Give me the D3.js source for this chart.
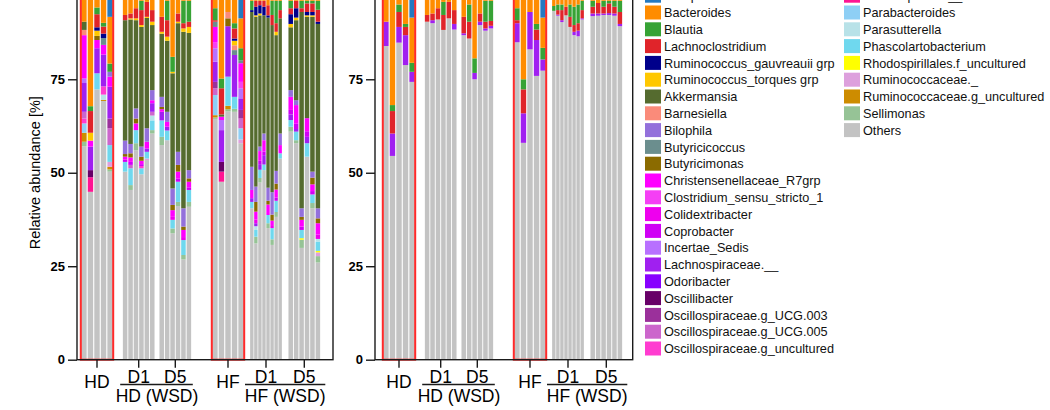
<!DOCTYPE html>
<html><head><meta charset="utf-8">
<script src="https://cdn.jsdelivr.net/npm/d3@7"></script>
<style>
body{margin:0;background:#fff}
svg{display:block}
text{font-family:"Liberation Sans",Arial,Helvetica,sans-serif}
</style>
</head><body>
<svg id="chart" width="1050" height="410"></svg>
<script>
// ---------- categories ----------
const taxa = ["Alistipes","Bacteroides","Blautia","Lachnoclostridium","Ruminococcus_gauvreauii grp","Ruminococcus_torques grp","Akkermansia","Barnesiella","Bilophila","Butyricicoccus","Butyricimonas","Christensenellaceae_R7grp","Clostridium_sensu_stricto_1","Colidextribacter","Coprobacter","Incertae_Sedis","Lachnospiraceae.__","Odoribacter","Oscillibacter","Oscillospiraceae.g_UCG.003","Oscillospiraceae.g_UCG.005","Oscillospiraceae.g_uncultured","Oscillospirales.__","Parabacteroides","Parasutterella","Phascolartobacterium","Rhodospirillales.f_uncultured","Ruminococcaceae._","Ruminococcaceae.g_uncultured","Sellimonas","Others"];
const taxonColors = ["#2479c1","#ff8c00","#37a335","#e0242a","#00008b","#ffc800","#556b2f","#fa8b7a","#9370db","#6b8e8e","#8b6b00","#ff00ff","#f53ff5","#ee00ee","#d000f5","#b870ff","#a020f0","#8800ff","#680068","#9b309b","#cc66cc","#ff3cd0","#ff1493","#8ecff5","#b8e2e8","#6fd8ee","#ffff00","#dda0dd","#cd8c00","#96c396","#c3c3c3"];
const groupLabels = ["HD","D1","D5","HF","D1","D5"];
const groupSizes = [5,6,6,5,8,6];
const conditionLabels = ["HD (WSD)","HF (WSD)"];
const yTicks = [0,25,50,75,100];
const yLabel = "Relative abundance [%]";

// ---------- left panel: genus series (36 samples: 5|6|6|5|8|6) ----------
const alistipes =        [0,0,0,0,8.3, 0,0,0,0,0,0, 0,0,0,0,0,0, 0,0,0,0,8.7, 0,0,0,0,0,0,0,0, 0,0,0,0,0,0];
const bacteroides =      [9.6,32.2,5.8,9.9,12.5, 7.8,7.4,6.0,4.0,4.3,6.5, 8.3,4.0,19.0,7.4,4.0,4.0, 6.0,24.8,7.0,10.0,8.0, 4.0,4.0,4.0,4.0,5.2,4.0,4.0,4.0, 4.0,4.0,4.0,4.0,4.0,4.0];
const blautia =          [0,1.3,1.8,1.0,2.2, 0,0,0,2.5,0,0, 0,5.2,4.0,0,6.0,5.6, 3.2,2.6,0,1.4,3.2, 2.5,0,0,0,0,3.8,6.0,2.5, 2.0,0,2.0,0.7,0.7,2.4];
const lachnoclostridium =[0,5.8,3.5,1.9,0, 1.4,1.3,2.7,4.0,4.0,3.1, 4.0,4.4,0,2.2,1.4,1.4, 0.4,7.0,0,2.7,0, 0,1.6,1.2,1.6,2.7,2.7,2.3,2.2, 1.6,2.0,1.0,2.3,2.3,3.2];
const gauvreauii =       [0,0,0.9,1.2,0, 0,0,0,0,0,0, 0,0,0,0,0,0, 0,0,0,0.6,0, 0.5,2.3,2.2,2.3,0.6,0,0,0, 2.6,2.5,0,0.9,0.9,0.6];
const torques =          [0,2.1,1.4,0,0, 0,0.3,0.5,0.5,0.3,0.9, 0.5,1.1,0.4,0.4,0.9,1.6, 0,0,0,1.2,0, 0,0.4,0.5,0,0,0,0.9,0, 0.9,0.7,0,0.4,0.4,0];
const akkermansia =      [2.2,0,0,0,0, 32.2,33.3,23.6,32.0,29.5,17.4, 16.9,19.0,30.8,34.4,47.2,36.7, 0,0.6,0,0,0, 41.4,45.4,35.1,31.6,45.5,44.7,36.3,30.8, 16.8,21.4,52.5,27.1,41.4,49.3];
const barnesiella =      [1.4,0,0,0,0, 0,0,0,0,0,0, 0,0,0,0,0,0, 0,0,1.7,1.3,0, 0,0,0,0,0,0,0,0, 0,0,0,0,0,0];
const bilophila =        [0,0,0,0,1.3, 3.6,2.5,2.7,2.7,3.6,2.7, 2.7,2.7,4.4,3.5,4.9,2.2, 0,0,0,0,0, 6.2,4.1,1.2,1.8,3.5,6.0,3.4,3.1, 1.8,1.3,2.3,0,1.6,2.7];
const butyricicoccus =   [0,0,0,1.8,0, 0,0,0,0,0,0, 0,0,0,0,0,0, 1.4,0,0,1.3,0.8, 0,0,0,0,0,0,0,0, 0,0,0,0,0,0];
const butyricimonas =    [0,0,1.1,0,0, 0.7,1.1,1.3,1.1,0,0, 0.6,0,1.4,1.8,0.9,0.9, 0,0,2.1,0,0, 0,2.6,0,0,1.0,1.6,1.6,0, 0,0,0.8,0,1.8,1.3];
const christensenellaceae=[11.6,1.6,2.2,2.6,2.7, 0.8,1.2,1.8,0.9,1.8,0.8, 0.7,1.3,1.8,1.8,1.9,1.5, 4.2,0.9,0,0,5.0, 2.2,2.1,2.6,3.0,2.8,1.2,2.1,2.2, 3.5,5.0,1.8,3.5,1.8,3.0];
const clostridium =      [0,0,0,0,0, 0,0,0,0,0,0, 0,0,0,0,0,0, 1.5,0,0,0,1.7, 0,0,0,0,0,0,0,0, 0,0,0,0,0,0];
const colidextribacter = [0,0,0,0,0, 0,0,0,0,0,0, 0,0,0.8,0,0.8,0, 0,0,0,0,0, 0,1.0,0,0,0,0.8,0,0, 0,0,0,0,0,1.2];
const coprobacter =      [0,0,0,0,0, 0.6,0.8,0,0.5,0,0, 0,0,0,0.9,0,0.7, 0,0,0,0,0, 0,0,0.9,1.0,0,0,0.9,0, 1.2,1.4,0.9,1.5,0.9,0];
const incertaeSedis =    [1.2,0,0,0,0, 0,0,0,0,0,0, 0,0,0,0,0,0, 3.6,2.7,0,0,2.7, 0,0,0,0,0,0,0,0, 0,0,0,0,0,0];
const lachnospiraceae =  [7.7,6.3,6.7,8.5,8.5, 0,0,0,0,0.9,2.3, 2.3,1.0,0,0,0,0, 5.4,8.5,13.5,11.2,3.1, 1.0,0.8,1.5,2.5,0,0,0,0, 1.5,0.7,0,1.7,0,0];
const odoribacter =      [0,0,0,0,0, 0,0,0,0,0,0, 0,0,0,0,0,0, 0,0,0,0,0, 0,0,0,0,0,0,0,0, 0,0,0,0,0,0];
const oscillibacter =    [0,1.9,0,0,0, 0,0,0,0,0,0, 0,0,0,0,0,0, 0,2.6,0,0,0, 0,0,0,0,0,0,0,0, 0,0,0,0,0,0];
const ucg003 =           [0,0,0,0,2.6, 0,0,0,0,0,0, 0,0,0,0,0,0, 1.7,0,0,0,2.3, 0,0,0,0,0,0,0,0, 0,0,0,0,0,0];
const ucg005 =           [1.8,0,0,0,4.5, 0,0.9,0,0,0,1.0, 0,0,0,0,0,0, 1.8,0,0,0,2.6, 0,0,0,0,0,0,0,0, 0,0,0,0,0,0];
const oscUncultured =    [1.3,0,0,2.2,0, 0,0,0,0.6,0,0, 0,0,0,0,0,0, 0,0,0,0,0, 0,0,0,0,0,0,0,0, 0,0,0,0,0,0];
const oscillospirales =  [0,3.9,0,0,0, 0,0,0,0,0,0, 0,0,0,0,0,0, 0,2.7,0,0,0, 0,0,0,0,0,0,0,0, 0,0,0,0,0,0];
const parabacteroides =  [2.5,0,0,0,0, 0,0,0,0,0,0, 0,0,0,0,0,0, 5.4,0,0,0,3.0, 0,0,0,0,0,0,0,0, 0,0,0,0,0,0];
const parasutterella =   [0,0,0,1.4,0, 0,0,0,0,0,1.3, 0,0,0,0,0,0, 0,0,0,0,0, 0,1.0,0,0,0,0,0,0, 0,0,0,0,0,0.7];
const phascolarto =      [0,0,4.3,0,4.5, 2.6,4.5,3.5,1.6,1.8,2.6, 4.4,2.6,2.3,5.4,4.0,3.2, 0,0,7.8,3.2,0, 1.7,1.8,2.2,1.5,2.2,3.0,3.0,1.4, 1.8,2.3,2.2,3.6,2.3,2.5];
const rhodospirillales = [0,0,0,0,0, 0,0,0,0,0,0, 0,0,0,0,0,0, 0,0,0,0,0, 0,0,0,0,0,0,0,0, 0,0,0.4,0,0,0.4];
const ruminococcaceaeU = [0,0,0,0,1.3, 0,0,0,0,0.4,0, 0,0,0,0,0,0, 0,0,0,0,1.0, 0,0,0,0,0,0,0,0, 0,0,0,0,0,1.0];
const ruminococcaceaeUnc=[2.4,0,0,0.3,0.7, 0,0,0,0,0,0, 0,0,0,0,0,0, 0.6,0,0.9,0,0, 0,0,0,0,0,0,0,0, 0,0,0,0,0,0];
const sellimonas =       [1.2,0,0,0,0.6, 0,1.3,1.9,0,0,0.9, 2.2,0,1.3,1.1,1.2,1.3, 0.4,0,0.6,0.8,0, 0,1.8,1.2,0,1.3,1.5,1.3,0, 1.3,0.8,2.2,0,1.4,1.7];
const others =           [57.1,44.9,72.3,69.2,50.3, 50.3,45.4,56.0,49.6,53.4,60.5, 57.4,58.7,33.8,41.1,26.8,40.9, 64.4,47.6,66.4,66.3,57.9, 40.5,31.1,47.4,50.7,35.2,30.7,38.2,53.8, 61.0,57.9,29.9,54.3,40.5,26.0];

// ---------- right panel: top taxa only ----------
const rightTaxa = ["Alistipes","Bacteroides","Blautia","Lachnoclostridium","Lachnospiraceae.__","Others"];
const rAlistipes =   [0,0,0,0,8.5, 0,0,0,0,0,0, 0,0,0,0,0,0, 0,0,0,0,8.5, 0,0,0,0,0,0,0,0, 0,0,0,0,0,0];
const rBacteroides = [9.6,31.9,5.0,10.2,12.1, 7.8,7.4,6.0,4.3,4.3,6.5, 8.3,5.0,19.4,7.4,4.0,4.0, 6.0,25.0,7.0,10.2,8.1, 5.4,5.0,5.0,5.6,5.0,5.6,5.0,4.0, 4.0,4.6,4.0,4.0,4.0,4.0];
const rBlautia =     [0,1.6,2.0,0.8,2.4, 0,0,0,3.5,0,0, 0,4.6,3.9,0,5.6,5.4, 3.2,2.7,0,1.5,3.1, 1.3,1.5,1.5,0,3.3,4.9,5.0,2.5, 1.6,0,1.6,0.7,1.6,3.0];
const rLachnoclost = [0,6.0,4.0,2.2,0, 1.8,1.8,3.0,4.0,4.4,3.7, 4.4,4.5,0,2.2,1.8,1.3, 0.8,6.4,0,2.8,0, 0,1.2,2.7,2.3,2.7,1.8,2.0,2.2, 1.8,2.8,1.8,2.6,1.8,3.2];
const rLachnospir =  [6.5,6.0,4.2,8.0,2.7, 0,0.8,0,0,0,1.5, 0.5,0,1.7,0.9,0.6,0.7, 5.1,7.9,10.0,9.6,3.0, 0,0.3,0.5,0,0,0.9,1.5,0.3, 0.7,0.6,0.4,0.5,0.6,0.6];
const rOthers =      [83.9,54.5,84.8,78.8,74.3, 90.4,90.0,91.0,88.2,91.3,88.3, 86.8,85.9,75.0,89.5,88.0,88.6, 84.9,58.0,83.0,75.9,77.3, 93.3,92.0,90.3,92.1,89.0,86.8,86.5,91.0, 91.9,92.0,92.2,92.2,92.0,89.2];

const leftSeries = [alistipes,bacteroides,blautia,lachnoclostridium,gauvreauii,torques,akkermansia,barnesiella,bilophila,butyricicoccus,butyricimonas,christensenellaceae,clostridium,colidextribacter,coprobacter,incertaeSedis,lachnospiraceae,odoribacter,oscillibacter,ucg003,ucg005,oscUncultured,oscillospirales,parabacteroides,parasutterella,phascolarto,rhodospirillales,ruminococcaceaeU,ruminococcaceaeUnc,sellimonas,others];
const rightSeries = [rAlistipes,rBacteroides,rBlautia,rLachnoclost,rLachnospir,rOthers];

// ---------- build ----------
const svg = d3.select("#chart");
svg.append("rect").attr("width",1050).attr("height",410).attr("fill","#fff");
const color = d3.scaleOrdinal().domain(taxa).range(taxonColors);

const sampleIds = groupSizes.flatMap((n,gi)=>d3.range(n).map(i=>`g${gi}_s${i+1}`));
const groupOf = groupSizes.flatMap((n,gi)=>d3.range(n).map(()=>gi));

function buildTable(names, series){
  return sampleIds.map((id,j)=>{
    const row={sample:id};
    names.forEach((t,k)=>row[t]=series[k][j]);
    return row;
  });
}

const y = d3.scaleLinear().domain([0,100]).range([359.7,-14.2]);
const groupX = [81,122.7,159.3,212,250,288.3];
const groupW = 32;

const panels = [
  {x0:77, x1:333, shift:0, names:taxa, series:leftSeries, ylabel:true},
  {x0:375, x1:632.7, shift:302, names:rightTaxa, series:rightSeries, ylabel:false}
];

panels.forEach(p=>{
  const g = svg.append("g");
  const table = buildTable(p.names, p.series);
  const keys = p.names.slice().reverse(); // Others at bottom
  const stacked = d3.stack().keys(keys)(table);
  const bands = groupSizes.map((n,gi)=>d3.scaleBand()
      .domain(sampleIds.filter((s,j)=>groupOf[j]===gi))
      .range([groupX[gi]+p.shift, groupX[gi]+p.shift+groupW])
      .paddingInner(0.17).paddingOuter(0.03));
  const xOf = (id)=>bands[groupOf[sampleIds.indexOf(id)]](id);
  const bw = (id)=>bands[groupOf[sampleIds.indexOf(id)]].bandwidth();

  g.selectAll("g.layer").data(stacked).join("g").attr("class","layer")
    .attr("fill",d=>color(d.key))
    .selectAll("rect").data(d=>d.filter(v=>v[1]-v[0]>0)).join("rect")
    .attr("x",d=>xOf(d.data.sample))
    .attr("width",d=>bw(d.data.sample))
    .attr("y",d=>y(d[1]))
    .attr("height",d=>y(d[0])-y(d[1]));

  // red boxes around baseline groups
  [0,3].forEach(gi=>{
    g.append("rect")
      .attr("x",groupX[gi]+p.shift-0.2).attr("width",groupW+0.4)
      .attr("y",y(100)).attr("height",y(0)-y(100))
      .attr("fill","none").attr("stroke","#ff2a2a").attr("stroke-width",2);
  });

  // frame
  g.append("rect").attr("x",p.x0).attr("y",y(100)).attr("width",p.x1-p.x0).attr("height",y(0)-y(100))
    .attr("fill","none").attr("stroke","#1a1a1a").attr("stroke-width",1.4);

  // y axis
  const ax = g.append("g").attr("transform",`translate(${p.x0},0)`)
    .call(d3.axisLeft(y).tickValues(yTicks).tickSize(9).tickPadding(3));
  ax.select(".domain").remove();
  ax.selectAll(".tick line").attr("stroke","#1a1a1a").attr("stroke-width",1.4);
  ax.selectAll(".tick text").attr("fill","#000").style("font-size","13px").style("font-weight","bold")
    .style("font-family",'"Liberation Sans",Arial,sans-serif');

  // x ticks and labels
  groupLabels.forEach((lab,gi)=>{
    const cx = groupX[gi]+p.shift+groupW/2;
    g.append("line").attr("x1",cx).attr("x2",cx).attr("y1",y(0)).attr("y2",y(0)+8)
      .attr("stroke","#1a1a1a").attr("stroke-width",1.4);
    const sub = (gi===1||gi===2||gi===4||gi===5);
    g.append("text").attr("x",cx).attr("y",sub?383:387.5).attr("text-anchor","middle")
      .style("font-size","17.5px").attr("fill","#000").text(lab);
  });
  const pairs = [[1,2,-2.5,1.5],[4,5,-5,5]];
  pairs.forEach(([a,b,l,r],k)=>{
    const xa = groupX[a]+p.shift+l, xb = groupX[b]+p.shift+groupW+r;
    g.append("line").attr("x1",xa).attr("x2",xb).attr("y1",384.5).attr("y2",384.5)
      .attr("stroke","#1a1a1a").attr("stroke-width",1.4);
    g.append("text").attr("x",(groupX[a]+groupX[b]+groupW)/2+p.shift).attr("y",401.5)
      .attr("text-anchor","middle").style("font-size","17.5px").attr("fill","#000").text(conditionLabels[k]);
  });

  if(p.ylabel){
    g.append("text").attr("transform",`translate(39.5,${(y(0)+y(100))/2}) rotate(-90)`)
      .attr("text-anchor","middle").style("font-size","14.5px").attr("fill","#000").text(yLabel);
  }
});

// ---------- legend ----------
const lg = svg.append("g");
const rowH = 16.8, firstY = 12.5 - 16.8;
taxa.forEach((t,i)=>{
  const col = i<22?0:1;
  const row = col===0?i:i-22;
  const cy = firstY + row*rowH;
  const sx = col===0?645:844;
  lg.append("rect").attr("x",sx).attr("y",cy-7).attr("width",16).attr("height",14).attr("fill",color(t));
  lg.append("text").attr("x",sx+19).attr("y",cy+4.6).style("font-size","12.7px").attr("fill","#111").text(t);
});
</script>
</body></html>
